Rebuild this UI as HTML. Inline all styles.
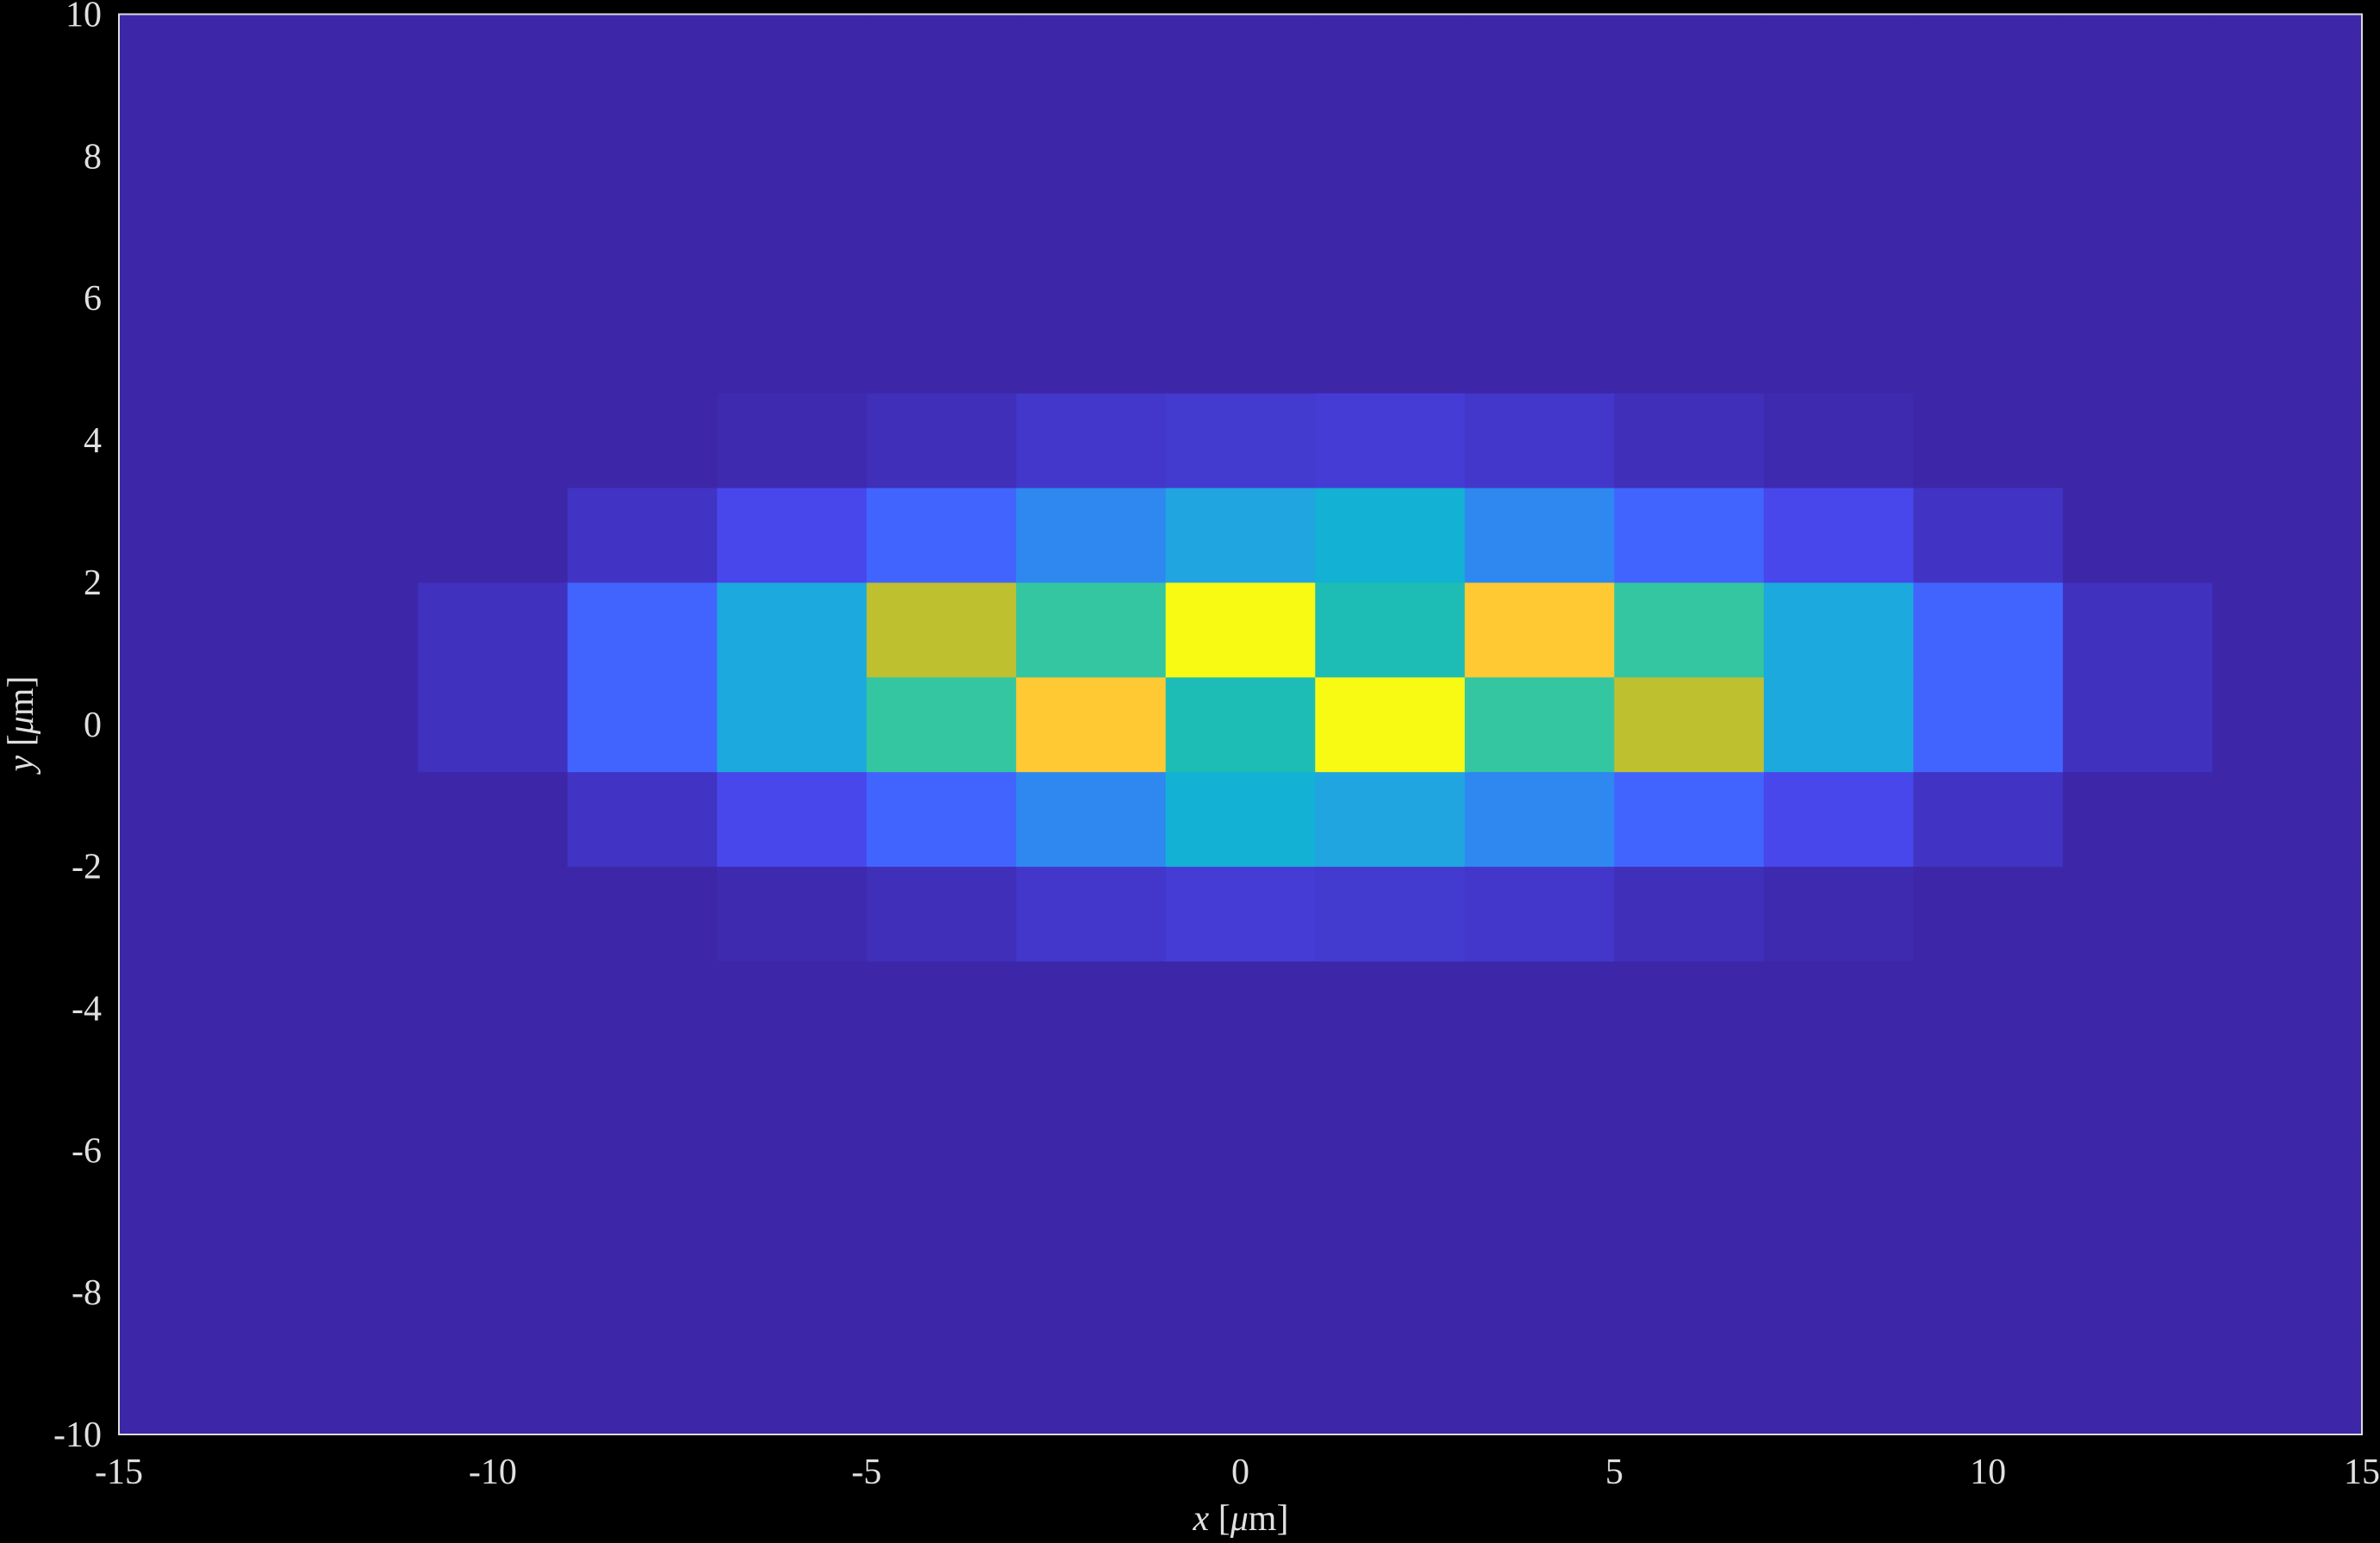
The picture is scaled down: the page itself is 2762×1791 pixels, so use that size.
<!DOCTYPE html>
<html><head><meta charset="utf-8"><style>
html,body{margin:0;padding:0;background:#000;}
svg{display:block;}
text{font-family:"Liberation Serif",serif;fill:#e0e0e0;font-size:42px;}
</style></head><body>
<svg id="chart" width="2762" height="1791" xmlns="http://www.w3.org/2000/svg">
<rect width="2762" height="1791" fill="#000"/>
<g id="cells"></g>
<rect x="138" y="16.5" width="2603" height="1648.5" fill="none" stroke="#dcdcdc" stroke-width="2"/>
<g id="xticks"></g>
<g id="yticks"></g>
<text x="1440" y="1776" text-anchor="middle"><tspan font-style="italic">x</tspan> [<tspan font-style="italic">μ</tspan>m]</text>
<text transform="translate(38,840) rotate(-90)" text-anchor="middle"><tspan font-style="italic">y</tspan> [<tspan font-style="italic">μ</tspan>m]</text>
</svg>
<script>
const xEdges0 = -15, cellW = 2, nCols = 15;
const yEdges0 = -10, cellH = 4/3, nRows = 15;
// rows listed from y=-10 upward; only non-zero rows given
const row5 = [0,0,0,0,0.01,0.03,0.06,0.08,0.07,0.06,0.03,0.01,0,0,0];
const row6 = [0,0,0,0.05,0.12,0.2,0.3,0.45,0.38,0.3,0.2,0.12,0.05,0,0];
const row7 = [0,0,0.04,0.2,0.4,0.62,0.9,0.55,1.0,0.62,0.8,0.4,0.2,0.04,0];
const row8 = [0,0,0.04,0.2,0.4,0.8,0.62,1.0,0.55,0.9,0.62,0.4,0.2,0.04,0];
const row9 = [0,0,0,0.05,0.12,0.2,0.3,0.38,0.45,0.3,0.2,0.12,0.05,0,0];
const row10 = [0,0,0,0,0.01,0.03,0.06,0.07,0.08,0.06,0.03,0.01,0,0,0];
const zeroRow = new Array(15).fill(0);
const rows = [zeroRow,zeroRow,zeroRow,zeroRow,zeroRow,row5,row6,row7,row8,row9,row10,zeroRow,zeroRow,zeroRow,zeroRow];
const xTicks = [-15,-10,-5,0,5,10,15];
const yTicks = [-10,-8,-6,-4,-2,0,2,4,6,8,10];

const stops=[[0,[61,39,168]],[0.12,[71,71,235]],[0.2,[66,100,254]],[0.3,[46,136,240]],[0.38,[32,165,224]],[0.45,[19,178,212]],[0.55,[29,189,181]],[0.62,[51,198,160]],[0.8,[191,192,48]],[0.9,[255,201,52]],[1.0,[248,250,20]]];
function cmap(v){for(let i=1;i<stops.length;i++){if(v<=stops[i][0]){const a=stops[i-1],b=stops[i];const t=(v-a[0])/(b[0]-a[0]);const c=a[1].map((x,k)=>Math.round(x+(b[1][k]-x)*t));return `rgb(${c})`;}}return 'rgb(248,250,20)';}
const X0=138,X1=2741,Y0=16.5,Y1=1665;
const sx=v=>X0+(v+15)/30*(X1-X0);
const sy=v=>Y1-(v+10)/20*(Y1-Y0);
const NS='http://www.w3.org/2000/svg';
const g=document.getElementById('cells');
rows.forEach((r,ri)=>{r.forEach((v,ci)=>{
 const x0=sx(xEdges0+ci*cellW),x1=sx(xEdges0+(ci+1)*cellW);
 const yb=sy(yEdges0+ri*cellH),yt=sy(yEdges0+(ri+1)*cellH);
 const el=document.createElementNS(NS,'rect');
 el.setAttribute('x',x0);el.setAttribute('y',yt);el.setAttribute('width',x1-x0+0.5);el.setAttribute('height',yb-yt+0.5);
 el.setAttribute('fill',cmap(v));
 
 
 g.appendChild(el);});});
const gx=document.getElementById('xticks');
xTicks.forEach(t=>{const el=document.createElementNS(NS,'text');el.setAttribute('x',sx(t));el.setAttribute('y',1722);el.setAttribute('text-anchor','middle');el.textContent=t;
 
 
 gx.appendChild(el);});
const gy=document.getElementById('yticks');
yTicks.forEach(t=>{const el=document.createElementNS(NS,'text');el.setAttribute('x',118);el.setAttribute('y',sy(t)+14);el.setAttribute('text-anchor','end');el.textContent=t;
 
 
 gy.appendChild(el);});
</script>
</body></html>
